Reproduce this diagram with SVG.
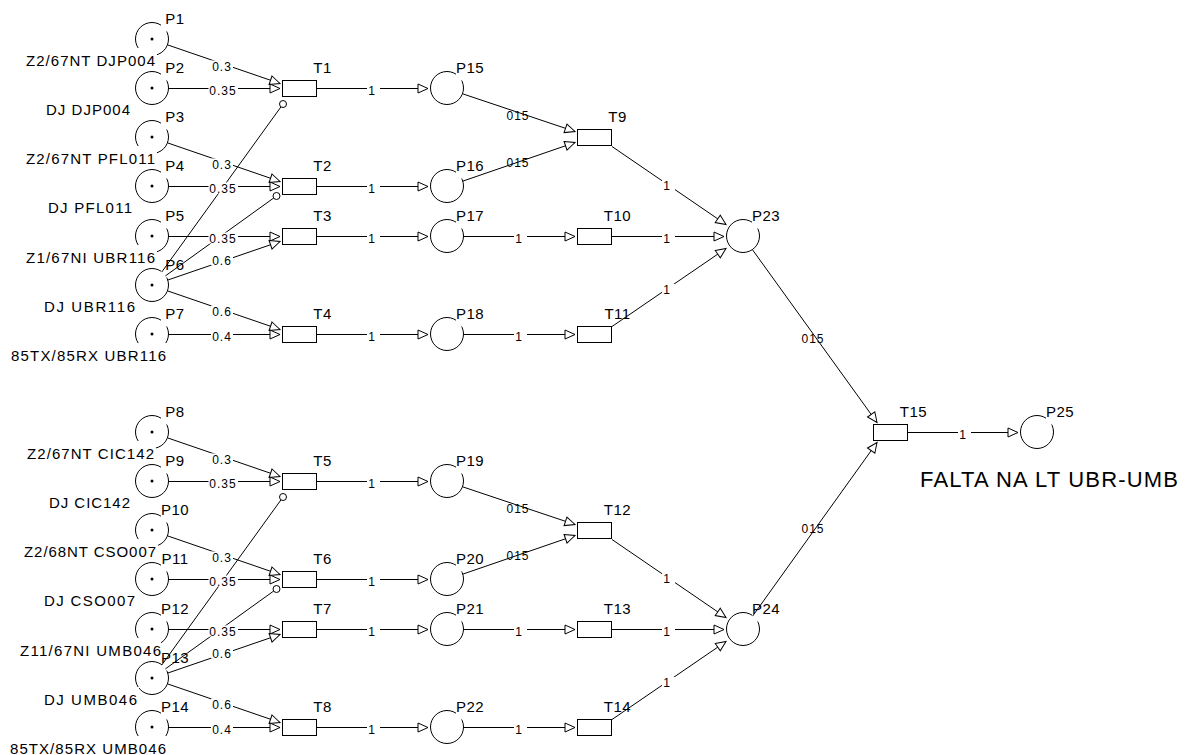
<svg xmlns="http://www.w3.org/2000/svg" width="1190" height="755" viewBox="0 0 1190 755">
<defs>
<style>
.pl{fill:#fff;stroke:#000;stroke-width:1}
.tr{fill:#fff;stroke:#000;stroke-width:1}
.tok{fill:#000}
.bg{fill:#fff}
text{font-family:"Liberation Sans",Arial,sans-serif;fill:#000}
.lb{font-size:15px;text-anchor:middle;letter-spacing:0.5px}
.nm{font-size:15px;text-anchor:middle}
.w{font-size:12px;text-anchor:middle;letter-spacing:1px}
.arc{stroke:#000;stroke-width:1;fill:none;marker-end:url(#ah)}
.inh{stroke:#000;stroke-width:1;fill:none}
.ic{fill:#fff;stroke:#000;stroke-width:1}
</style>
<marker id="ah" viewBox="0 0 11 10" refX="10.5" refY="5" markerWidth="11" markerHeight="10" markerUnits="userSpaceOnUse" orient="auto" overflow="visible">
<path d="M0.5,0.5 L10.5,5 L0.5,9.5 Z" fill="#fff" stroke="#000" stroke-width="1"/>
</marker>
</defs>
<rect width="1190" height="755" fill="#fff"/>

<!-- places with tokens -->
<g id="P1"><circle class="pl" cx="152" cy="39" r="16.5"/><circle class="tok" cx="152" cy="39" r="1.5"/><rect class="bg" x="161" y="10.5" width="30" height="21"/><text class="lb" x="175" y="23.5">P1</text><rect class="bg" x="24" y="48" width="133" height="21"/><text class="nm" x="90.5" y="66" textLength="129" lengthAdjust="spacing">Z2/67NT DJP004</text></g>
<g id="P2"><circle class="pl" cx="152" cy="88" r="16.5"/><circle class="tok" cx="152" cy="88" r="1.5"/><rect class="bg" x="161" y="59.5" width="30" height="21"/><text class="lb" x="175" y="72.5">P2</text><rect class="bg" x="44" y="97" width="88" height="21"/><text class="nm" x="88" y="115" textLength="84" lengthAdjust="spacing">DJ DJP004</text></g>
<g id="P3"><circle class="pl" cx="152" cy="137" r="16.5"/><circle class="tok" cx="152" cy="137" r="1.5"/><rect class="bg" x="161" y="108.5" width="30" height="21"/><text class="lb" x="175" y="121.5">P3</text><rect class="bg" x="24" y="146" width="133" height="21"/><text class="nm" x="90.5" y="164" textLength="129" lengthAdjust="spacing">Z2/67NT PFL011</text></g>
<g id="P4"><circle class="pl" cx="152" cy="186" r="16.5"/><circle class="tok" cx="152" cy="186" r="1.5"/><rect class="bg" x="161" y="157.5" width="30" height="21"/><text class="lb" x="175" y="170.5">P4</text><rect class="bg" x="46" y="195" width="88" height="21"/><text class="nm" x="90" y="213" textLength="84" lengthAdjust="spacing">DJ PFL011</text></g>
<g id="P5"><circle class="pl" cx="152" cy="236" r="16.5"/><circle class="tok" cx="152" cy="236" r="1.5"/><rect class="bg" x="161" y="207.5" width="30" height="21"/><text class="lb" x="175" y="220.5">P5</text><rect class="bg" x="24" y="245" width="133" height="21"/><text class="nm" x="90.5" y="263" textLength="129" lengthAdjust="spacing">Z1/67NI UBR116</text></g>
<g id="P6"><circle class="pl" cx="152" cy="285" r="16.5"/><circle class="tok" cx="152" cy="285" r="1.5"/><rect class="bg" x="161" y="256.5" width="30" height="21"/><text class="lb" x="175" y="269.5">P6</text><rect class="bg" x="42" y="294" width="95" height="21"/><text class="nm" x="89.5" y="312" textLength="91" lengthAdjust="spacing">DJ UBR116</text></g>
<g id="P7"><circle class="pl" cx="152" cy="334" r="16.5"/><circle class="tok" cx="152" cy="334" r="1.5"/><rect class="bg" x="161" y="305.5" width="30" height="21"/><text class="lb" x="175" y="318.5">P7</text><rect class="bg" x="9" y="343" width="159" height="21"/><text class="nm" x="88.5" y="361" textLength="155" lengthAdjust="spacing">85TX/85RX UBR116</text></g>
<g id="P8"><circle class="pl" cx="152" cy="432" r="16.5"/><circle class="tok" cx="152" cy="432" r="1.5"/><rect class="bg" x="161" y="403.5" width="30" height="21"/><text class="lb" x="175" y="416.5">P8</text><rect class="bg" x="25" y="441" width="131" height="21"/><text class="nm" x="90.5" y="459" textLength="127" lengthAdjust="spacing">Z2/67NT CIC142</text></g>
<g id="P9"><circle class="pl" cx="152" cy="481" r="16.5"/><circle class="tok" cx="152" cy="481" r="1.5"/><rect class="bg" x="161" y="452.5" width="30" height="21"/><text class="lb" x="175" y="465.5">P9</text><rect class="bg" x="47" y="490" width="85" height="21"/><text class="nm" x="89.5" y="508" textLength="81" lengthAdjust="spacing">DJ CIC142</text></g>
<g id="P10"><circle class="pl" cx="152" cy="530" r="16.5"/><circle class="tok" cx="152" cy="530" r="1.5"/><rect class="bg" x="161" y="501.5" width="30" height="21"/><text class="lb" x="175" y="514.5">P10</text><rect class="bg" x="22" y="539" width="136" height="21"/><text class="nm" x="90" y="557" textLength="132" lengthAdjust="spacing">Z2/68NT CSO007</text></g>
<g id="P11"><circle class="pl" cx="152" cy="579" r="16.5"/><circle class="tok" cx="152" cy="579" r="1.5"/><rect class="bg" x="161" y="550.5" width="30" height="21"/><text class="lb" x="175" y="563.5">P11</text><rect class="bg" x="42" y="588" width="95" height="21"/><text class="nm" x="89.5" y="606" textLength="91" lengthAdjust="spacing">DJ CSO007</text></g>
<g id="P12"><circle class="pl" cx="152" cy="629" r="16.5"/><circle class="tok" cx="152" cy="629" r="1.5"/><rect class="bg" x="161" y="600.5" width="30" height="21"/><text class="lb" x="175" y="613.5">P12</text><rect class="bg" x="18" y="638" width="143" height="21"/><text class="nm" x="90.5" y="656" textLength="141" lengthAdjust="spacing">Z11/67NI UMB046</text></g>
<g id="P13"><circle class="pl" cx="152" cy="678" r="16.5"/><circle class="tok" cx="152" cy="678" r="1.5"/><rect class="bg" x="162" y="649.5" width="30" height="21"/><text class="lb" x="175" y="662.5">P13</text><rect class="bg" x="42" y="687" width="97" height="21"/><text class="nm" x="90.5" y="705" textLength="93" lengthAdjust="spacing">DJ UMB046</text></g>
<g id="P14"><circle class="pl" cx="152" cy="727" r="16.5"/><circle class="tok" cx="152" cy="727" r="1.5"/><rect class="bg" x="161" y="698.5" width="30" height="21"/><text class="lb" x="175" y="711.5">P14</text><rect class="bg" x="8" y="736" width="160" height="19"/><text class="nm" x="88" y="753.5" textLength="156" lengthAdjust="spacing">85TX/85RX UMB046</text></g>

<!-- left transitions -->
<g id="T1"><rect class="tr" x="282.5" y="80.5" width="34" height="16"/><text class="lb" x="322.5" y="73">T1</text></g>
<g id="T2"><rect class="tr" x="282.5" y="178.5" width="34" height="16"/><text class="lb" x="322.5" y="171">T2</text></g>
<g id="T3"><rect class="tr" x="282.5" y="228.5" width="34" height="16"/><text class="lb" x="322.5" y="221">T3</text></g>
<g id="T4"><rect class="tr" x="282.5" y="326.5" width="34" height="16"/><text class="lb" x="322.5" y="319">T4</text></g>
<g id="T5"><rect class="tr" x="282.5" y="473.5" width="34" height="16"/><text class="lb" x="322.5" y="466">T5</text></g>
<g id="T6"><rect class="tr" x="282.5" y="571.5" width="34" height="16"/><text class="lb" x="322.5" y="564">T6</text></g>
<g id="T7"><rect class="tr" x="282.5" y="621.5" width="34" height="16"/><text class="lb" x="322.5" y="614">T7</text></g>
<g id="T8"><rect class="tr" x="282.5" y="719.5" width="34" height="16"/><text class="lb" x="322.5" y="712">T8</text></g>

<!-- middle places -->
<g id="P15"><circle class="pl" cx="447" cy="88" r="16.5"/><rect class="bg" x="456" y="59.5" width="30" height="21"/><text class="lb" x="470" y="72.5">P15</text></g>
<g id="P16"><circle class="pl" cx="447" cy="186" r="16.5"/><rect class="bg" x="456" y="157.5" width="30" height="21"/><text class="lb" x="470" y="170.5">P16</text></g>
<g id="P17"><circle class="pl" cx="447" cy="236" r="16.5"/><rect class="bg" x="456" y="207.5" width="30" height="21"/><text class="lb" x="470" y="220.5">P17</text></g>
<g id="P18"><circle class="pl" cx="447" cy="334" r="16.5"/><rect class="bg" x="456" y="305.5" width="30" height="21"/><text class="lb" x="470" y="318.5">P18</text></g>
<g id="P19"><circle class="pl" cx="447" cy="481" r="16.5"/><rect class="bg" x="456" y="452.5" width="30" height="21"/><text class="lb" x="470" y="465.5">P19</text></g>
<g id="P20"><circle class="pl" cx="447" cy="579" r="16.5"/><rect class="bg" x="456" y="550.5" width="30" height="21"/><text class="lb" x="470" y="563.5">P20</text></g>
<g id="P21"><circle class="pl" cx="447" cy="629" r="16.5"/><rect class="bg" x="456" y="600.5" width="30" height="21"/><text class="lb" x="470" y="613.5">P21</text></g>
<g id="P22"><circle class="pl" cx="447" cy="727" r="16.5"/><rect class="bg" x="456" y="698.5" width="30" height="21"/><text class="lb" x="470" y="711.5">P22</text></g>

<!-- middle transitions -->
<g id="T9"><rect class="tr" x="577.5" y="129.5" width="34" height="16"/><text class="lb" x="617.5" y="122">T9</text></g>
<g id="T10"><rect class="tr" x="577.5" y="228.5" width="34" height="16"/><text class="lb" x="617.5" y="221">T10</text></g>
<g id="T11"><rect class="tr" x="577.5" y="326.5" width="34" height="16"/><text class="lb" x="617.5" y="319">T11</text></g>
<g id="T12"><rect class="tr" x="577.5" y="522.5" width="34" height="16"/><text class="lb" x="617.5" y="515">T12</text></g>
<g id="T13"><rect class="tr" x="577.5" y="621.5" width="34" height="16"/><text class="lb" x="617.5" y="614">T13</text></g>
<g id="T14"><rect class="tr" x="577.5" y="719.5" width="34" height="16"/><text class="lb" x="617.5" y="712">T14</text></g>

<!-- right side -->
<g id="P23"><circle class="pl" cx="743" cy="236" r="16.5"/><rect class="bg" x="752" y="207.5" width="30" height="21"/><text class="lb" x="766" y="220.5">P23</text></g>
<g id="P24"><circle class="pl" cx="743" cy="629" r="16.5"/><rect class="bg" x="752" y="600.5" width="30" height="21"/><text class="lb" x="766" y="613.5">P24</text></g>
<g id="T15"><rect class="tr" x="873.5" y="424.5" width="34" height="16"/><text class="lb" x="913.5" y="417">T15</text></g>
<g id="P25"><circle class="pl" cx="1037" cy="432" r="16.5"/><rect class="bg" x="1046" y="403.5" width="30" height="21"/><text class="lb" x="1060" y="416.5">P25</text><text x="920" y="487" font-size="22" textLength="258" lengthAdjust="spacing">FALTA NA LT UBR-UMB</text></g>

<g id="connectors" transform="translate(0,0.5)">
<!-- upper inputs -->
<line class="arc" x1="167.6" y1="44.4" x2="280" y2="83"/>
<line class="arc" x1="168.5" y1="88" x2="280" y2="88"/>
<line class="arc" x1="167.6" y1="142.4" x2="280" y2="181"/>
<line class="arc" x1="168.5" y1="186" x2="280" y2="186"/>
<line class="arc" x1="168.5" y1="236" x2="280" y2="236"/>
<line class="arc" x1="167.6" y1="279.6" x2="280" y2="241"/>
<line class="arc" x1="167.6" y1="290.4" x2="280" y2="329"/>
<line class="arc" x1="168.5" y1="334" x2="280" y2="334"/>
<line class="inh" x1="161.7" y1="271.6" x2="281" y2="106.3"/><circle class="ic" cx="283" cy="103.5" r="3.5"/>
<line class="inh" x1="165.4" y1="275.4" x2="273.7" y2="197.5"/><circle class="ic" cx="276.5" cy="195.5" r="3.5"/>
<!-- lower inputs -->
<line class="arc" x1="167.6" y1="437.4" x2="280" y2="476"/>
<line class="arc" x1="168.5" y1="481" x2="280" y2="481"/>
<line class="arc" x1="167.6" y1="535.4" x2="280" y2="574"/>
<line class="arc" x1="168.5" y1="579" x2="280" y2="579"/>
<line class="arc" x1="168.5" y1="629" x2="280" y2="629"/>
<line class="arc" x1="167.6" y1="672.6" x2="280" y2="634"/>
<line class="arc" x1="167.6" y1="683.4" x2="280" y2="722"/>
<line class="arc" x1="168.5" y1="727" x2="280" y2="727"/>
<line class="inh" x1="161.7" y1="664.6" x2="281" y2="499.3"/><circle class="ic" cx="283" cy="496.5" r="3.5"/>
<line class="inh" x1="165.4" y1="668.4" x2="273.7" y2="590.5"/><circle class="ic" cx="276.5" cy="588.5" r="3.5"/>
<!-- T to middle places -->
<line class="arc" x1="317" y1="88" x2="428" y2="88"/>
<line class="arc" x1="317" y1="186" x2="428" y2="186"/>
<line class="arc" x1="317" y1="236" x2="428" y2="236"/>
<line class="arc" x1="317" y1="334" x2="428" y2="334"/>
<line class="arc" x1="317" y1="481" x2="428" y2="481"/>
<line class="arc" x1="317" y1="579" x2="428" y2="579"/>
<line class="arc" x1="317" y1="629" x2="428" y2="629"/>
<line class="arc" x1="317" y1="727" x2="428" y2="727"/>
<!-- middle places to T -->
<line class="arc" x1="462.6" y1="93.3" x2="575" y2="131"/>
<line class="arc" x1="462.6" y1="180.7" x2="575" y2="142"/>
<line class="arc" x1="463.5" y1="236" x2="575" y2="236"/>
<line class="arc" x1="463.5" y1="334" x2="575" y2="334"/>
<line class="arc" x1="462.6" y1="486.3" x2="575" y2="524"/>
<line class="arc" x1="462.6" y1="573.7" x2="575" y2="535"/>
<line class="arc" x1="463.5" y1="629" x2="575" y2="629"/>
<line class="arc" x1="463.5" y1="727" x2="575" y2="727"/>
<!-- T to P23/P24 -->
<line class="arc" x1="612" y1="146" x2="726" y2="224"/>
<line class="arc" x1="612" y1="236" x2="724" y2="236"/>
<line class="arc" x1="612" y1="326" x2="726" y2="248"/>
<line class="arc" x1="612" y1="539" x2="726" y2="617"/>
<line class="arc" x1="612" y1="629" x2="724" y2="629"/>
<line class="arc" x1="612" y1="719" x2="726" y2="641"/>
<!-- to T15 and P25 -->
<line class="arc" x1="752.6" y1="249.4" x2="877" y2="422"/>
<line class="arc" x1="752.6" y1="615.6" x2="877" y2="442"/>
<line class="arc" x1="908" y1="432" x2="1018" y2="432"/>

<!-- arc labels -->
<g>
<rect class="bg" x="211" y="60" width="22" height="11"/><text class="w" x="222" y="70">0.3</text>
<rect class="bg" x="208.5" y="84" width="29.5" height="11"/><text class="w" x="223" y="94">0.35</text>
<rect class="bg" x="211" y="158" width="22" height="11"/><text class="w" x="222" y="168">0.3</text>
<rect class="bg" x="208.5" y="182" width="29.5" height="11"/><text class="w" x="223" y="192">0.35</text>
<rect class="bg" x="208.5" y="232" width="29.5" height="11"/><text class="w" x="223" y="242">0.35</text>
<rect class="bg" x="211" y="254" width="22" height="11"/><text class="w" x="222" y="264">0.6</text>
<rect class="bg" x="211" y="305" width="22" height="11"/><text class="w" x="222" y="315">0.6</text>
<rect class="bg" x="211" y="330" width="22" height="11"/><text class="w" x="222" y="340">0.4</text>
<rect class="bg" x="211" y="453" width="22" height="11"/><text class="w" x="222" y="463">0.3</text>
<rect class="bg" x="208.5" y="477" width="29.5" height="11"/><text class="w" x="223" y="487">0.35</text>
<rect class="bg" x="211" y="551" width="22" height="11"/><text class="w" x="222" y="561">0.3</text>
<rect class="bg" x="208.5" y="575" width="29.5" height="11"/><text class="w" x="223" y="585">0.35</text>
<rect class="bg" x="208.5" y="625" width="29.5" height="11"/><text class="w" x="223" y="635">0.35</text>
<rect class="bg" x="211" y="647" width="22" height="11"/><text class="w" x="222" y="657">0.6</text>
<rect class="bg" x="211" y="698" width="22" height="11"/><text class="w" x="222" y="708">0.6</text>
<rect class="bg" x="211" y="723" width="22" height="11"/><text class="w" x="222" y="733">0.4</text>

<rect class="bg" x="367" y="84" width="13" height="11"/><text class="w" x="372" y="94">1</text>
<rect class="bg" x="367" y="182" width="13" height="11"/><text class="w" x="372" y="192">1</text>
<rect class="bg" x="367" y="232" width="13" height="11"/><text class="w" x="372" y="242">1</text>
<rect class="bg" x="367" y="330" width="13" height="11"/><text class="w" x="372" y="340">1</text>
<rect class="bg" x="367" y="477" width="13" height="11"/><text class="w" x="372" y="487">1</text>
<rect class="bg" x="367" y="575" width="13" height="11"/><text class="w" x="372" y="585">1</text>
<rect class="bg" x="367" y="625" width="13" height="11"/><text class="w" x="372" y="635">1</text>
<rect class="bg" x="367" y="723" width="13" height="11"/><text class="w" x="372" y="733">1</text>

<rect class="bg" x="514" y="232" width="13" height="11"/><text class="w" x="519" y="242">1</text>
<rect class="bg" x="514" y="330" width="13" height="11"/><text class="w" x="519" y="340">1</text>
<rect class="bg" x="514" y="625" width="13" height="11"/><text class="w" x="519" y="635">1</text>
<rect class="bg" x="514" y="723" width="13" height="11"/><text class="w" x="519" y="733">1</text>

<rect class="bg" x="662" y="179" width="13" height="11"/><text class="w" x="667" y="189">1</text>
<rect class="bg" x="662" y="232" width="13" height="11"/><text class="w" x="667" y="242">1</text>
<rect class="bg" x="662" y="283.5" width="13" height="11"/><text class="w" x="667" y="293.5">1</text>
<rect class="bg" x="662" y="572" width="13" height="11"/><text class="w" x="667" y="582">1</text>
<rect class="bg" x="662" y="625" width="13" height="11"/><text class="w" x="667" y="635">1</text>
<rect class="bg" x="662" y="676.5" width="13" height="11"/><text class="w" x="667" y="686.5">1</text>
<rect class="bg" x="958" y="428" width="13" height="11"/><text class="w" x="963" y="438">1</text>

<text class="w" x="518" y="119">015</text>
<text class="w" x="518" y="166">015</text>
<text class="w" x="518" y="512">015</text>
<text class="w" x="518" y="559">015</text>
<text class="w" x="813" y="342">015</text>
<text class="w" x="813" y="532">015</text>
</g>
</g>
</svg>
